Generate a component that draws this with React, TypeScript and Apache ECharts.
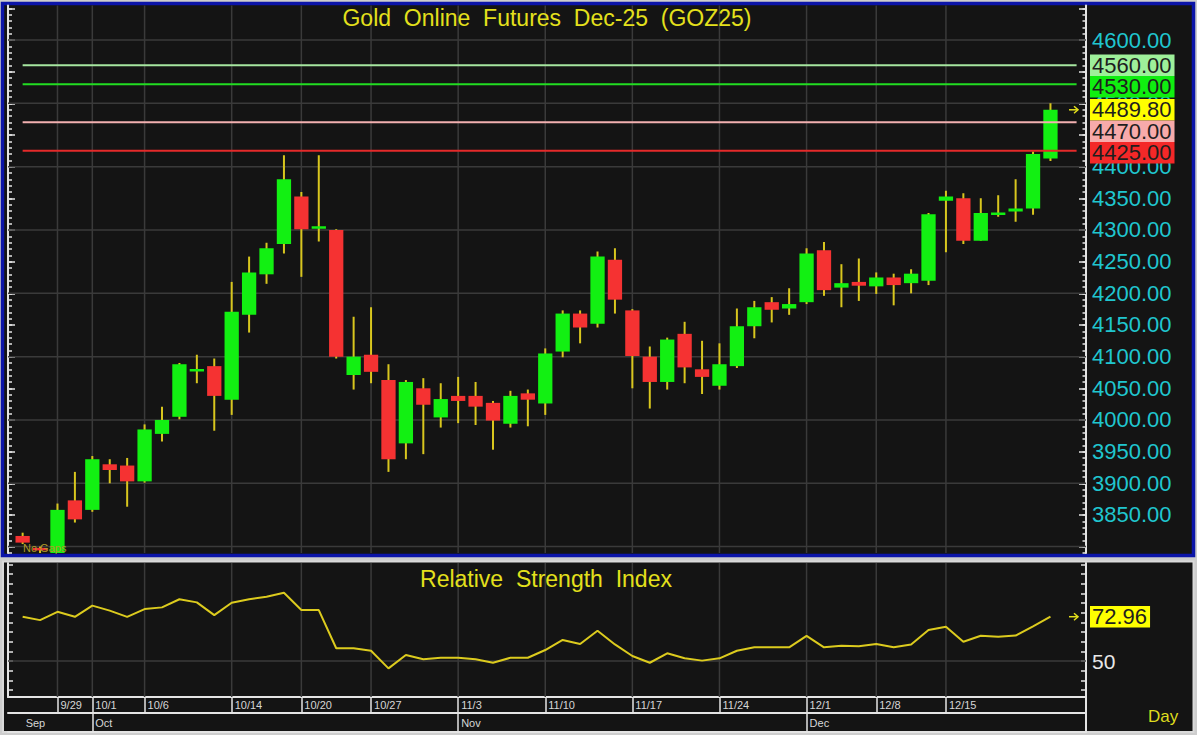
import React, { useEffect, useRef } from "react";
import * as echarts from "echarts";

const FONT = '"Liberation Sans", Arial, Helvetica, sans-serif';

// ---------- data ----------
const dates = [
  "9/25", "9/26", "9/29", "9/30", "10/1", "10/2", "10/3", "10/6", "10/7", "10/8",
  "10/9", "10/10", "10/14", "10/15", "10/16", "10/17", "10/20", "10/21", "10/22", "10/23",
  "10/27", "10/28", "10/29", "10/30", "10/31", "11/3", "11/4", "11/5", "11/6", "11/7",
  "11/10", "11/11", "11/12", "11/13", "11/14", "11/17", "11/18", "11/19", "11/20", "11/21",
  "11/24", "11/25", "11/26", "11/27", "11/28", "12/1", "12/2", "12/3", "12/4", "12/8",
  "12/9", "12/10", "12/11", "12/15", "12/16", "12/17", "12/18", "12/19", "12/22", "12/23",
];

const opens = [
  3816.8, 3798, 3785, 3873, 3858, 3930, 3928, 3903, 3978, 4005,
  4077, 4085, 4032, 4166, 4230, 4278, 4353, 4303, 4300, 4071,
  4103, 4063, 3963, 4050, 4004, 4038, 4038, 4027, 3994, 4042,
  4026, 4108, 4168, 4152, 4253, 4173, 4100, 4060, 4136, 4080,
  4054, 4085, 4148, 4186, 4176, 4186, 4268, 4209, 4218, 4211,
  4225, 4216, 4220, 4346, 4350, 4283, 4324, 4329, 4334, 4413,
];
const highs = [
  3822, 3800, 3868, 3918, 3943, 3938, 3940, 3993, 4021, 4090,
  4103, 4097, 4218, 4258, 4280, 4418, 4360, 4418, 4301, 4163,
  4178, 4088, 4063, 4066, 4058, 4068, 4060, 4030, 4046, 4048,
  4113, 4173, 4173, 4266, 4271, 4175, 4116, 4130, 4155, 4125,
  4121, 4176, 4188, 4194, 4208, 4271, 4281, 4246, 4255, 4233,
  4231, 4238, 4327, 4362, 4358, 4350, 4355, 4380, 4424, 4500,
];
const lows = [
  3804, 3778, 3778, 3838, 3855, 3900, 3863, 3901, 3966, 4001,
  4058, 3983, 4008, 4138, 4215, 4263, 4226, 4282, 4097, 4048,
  4058, 3918, 3938, 3946, 3988, 3995, 3992, 3953, 3988, 3990,
  4008, 4099, 4121, 4146, 4168, 4050, 4018, 4048, 4058, 4041,
  4048, 4082, 4129, 4154, 4166, 4183, 4196, 4178, 4188, 4199,
  4181, 4200, 4213, 4265, 4278, 4283, 4321, 4313, 4324, 4409,
];
const closes = [
  3806.3, 3794, 3858, 3843, 3938, 3921, 3903, 3985, 4000, 4088,
  4080, 4038, 4171, 4233, 4271, 4380, 4301, 4305, 4100, 4100,
  4076, 3938, 4060, 4024, 4033, 4030, 4021, 3999, 4038, 4032,
  4105, 4168, 4146, 4258, 4190, 4101, 4060, 4127, 4083, 4068,
  4088, 4148, 4178, 4174, 4183, 4263, 4205, 4216, 4212, 4225,
  4213, 4231, 4325, 4353, 4283, 4327, 4327, 4334, 4420, 4489.8,
];

const rsiValues = [
  72.9, 71.2, 75.5, 72.9, 78.7, 76.1, 72.9, 76.9, 77.8, 82.0,
  80.4, 73.8, 80.2, 82.0, 83.3, 85.4, 76.4, 76.4, 56.6, 56.6,
  55.3, 46.2, 53.1, 50.9, 51.7, 51.7, 50.9, 49.1, 51.7, 51.7,
  55.7, 60.9, 58.8, 65.7, 58.6, 52.6, 49.1, 54.0, 51.4, 50.2,
  51.4, 55.3, 57.1, 57.1, 57.1, 63.0, 57.1, 57.9, 57.7, 58.8,
  57.1, 58.6, 66.1, 67.8, 60.0, 63.1, 62.6, 63.2, 68.0, 72.96,
];

// axis labels / ticks
const dateLabelIdx = [2, 4, 7, 12, 16, 20, 25, 30, 35, 40, 45, 49, 53];
const monthLabelIdx = [0, 4, 25, 45];
const monthNames = ["Sep", "Oct", "Nov", "Dec"];
const monthTickIdx = [4, 25, 45];
// 4450 and 4550 are fully covered by the price tags in the reference
const priceLabels = [3850, 3900, 3950, 4000, 4050, 4100, 4150, 4200, 4250, 4300, 4350, 4400, 4500, 4600];
const priceGridLines = [3800, 3900, 4000, 4100, 4200, 4300, 4400, 4500, 4600];
const rsiLabels = [50];
const rsiGridLines = [50];

// horizontal levels
const levelValues = [4560, 4530, 4470, 4425];
const levelLineColors = ["#a6e6a0", "#22dd22", "#f2b0b0", "#e42a2a"];
const levelTagColors = ["#9ef09a", "#10ee10", "#f7aaaa", "#f42828"];

const range = (a: number, b: number, s: number) => {
  const r: number[] = [];
  for (let v = a; v <= b + 1e-9; v += s) r.push(+v.toFixed(4));
  return r;
};
const priceMajorTicks = range(3800, 4650, 50);
const priceMinorTicks = range(3790, 4650, 10);
const rsiTicks = range(35, 100, 5);

// scales
const X_MIN = -0.84;
const X_MAX = 61.04;
const LEVEL_START = 0;
const LEVEL_END = 60.5;
const Y_MIN = 3789.9;
const Y_MAX = 4654.5;
const R_MIN = 31.35;
const R_MAX = 100.8;

const WHITE = "#e4e4e4";
const CYAN = "#20c6cf";
const YELLOW = "#e4e01c";
const WICK = "#d8c61e";
const UP = "#12f012";
const DOWN = "#f53232";
const GRID = "#3a3a3a";
const PANEL = "#141414";

function vLines(color: string, yMin: number, yMax: number) {
  return (params: any, api: any) => {
    const x = api.value(0);
    const p1 = api.coord([x, yMin]);
    const p2 = api.coord([x, yMax]);
    return {
      type: "line",
      shape: { x1: p1[0], y1: p1[1], x2: p2[0], y2: p2[1] },
      style: { stroke: color, lineWidth: 1.5 },
    };
  };
}
function hLines(colors: string[] | string, xMin: number, xMax: number, width: number) {
  return (params: any, api: any) => {
    const v = api.value(1);
    const p1 = api.coord([xMin, v]);
    const p2 = api.coord([xMax, v]);
    const c = Array.isArray(colors) ? colors[params.dataIndex] : colors;
    return {
      type: "line",
      shape: { x1: p1[0], y1: p1[1], x2: p2[0], y2: p2[1] },
      style: { stroke: c, lineWidth: width },
    };
  };
}

function tagRenderer(values: number[], colors: string[], texts: string[], arrowIdx: number, H: number) {
  return (params: any, api: any) => {
    const axisX = api.coord([X_MAX, values[0]])[0];
    const ideal = values.map((v) => api.coord([X_MAX, v])[1]);
    const ys: number[] = [];
    ideal.forEach((y, k) => ys.push(k === 0 ? y : Math.max(y, ys[k - 1] + H)));
    const k = params.dataIndex;
    const children: any[] = [
      {
        type: "text",
        x: axisX + 4,
        y: ys[k],
        style: {
          text: texts[k],
          fill: "#1e1e1e",
          textFill: "#1e1e1e",
          font: `22px ${FONT}`,
          align: "left",
          textAlign: "left",
          verticalAlign: "middle",
          textVerticalAlign: "middle",
          backgroundColor: colors[k],
          textBackgroundColor: colors[k],
          padding: [0, 3, 0, 2],
          textPadding: [0, 3, 0, 2],
          lineHeight: H,
        },
      },
    ];
    if (k === arrowIdx) {
      const y = ideal[k];
      children.push(
        { type: "line", shape: { x1: axisX - 17, y1: y, x2: axisX - 8, y2: y }, style: { stroke: YELLOW, lineWidth: 1.5 } },
        {
          type: "polyline",
          shape: { points: [[axisX - 12, y - 3.5], [axisX - 8, y], [axisX - 12, y + 3.5]] },
          style: { stroke: YELLOW, lineWidth: 1.5, fill: "none" },
        }
      );
    }
    return { type: "group", children };
  };
}

function candleRender(params: any, api: any) {
  const i = api.value(0);
  const o = api.value(1);
  const c = api.value(2);
  const l = api.value(3);
  const h = api.value(4);
  const pO = api.coord([i, o]);
  const pC = api.coord([i, c]);
  const pL = api.coord([i, l]);
  const pH = api.coord([i, h]);
  const w = api.size([1, 0])[0] * 0.82;
  const diff = Math.abs(pO[1] - pC[1]);
  const hgt = Math.max(diff, 2.5);
  const top = Math.min(pO[1], pC[1]) - (hgt - diff) / 2;
  return {
    type: "group",
    children: [
      { type: "line", shape: { x1: pH[0], y1: pH[1], x2: pL[0], y2: pL[1] }, style: { stroke: WICK, lineWidth: 2 } },
      { type: "rect", shape: { x: pO[0] - w / 2, y: top, width: w, height: hgt }, style: { fill: c >= o ? UP : DOWN } },
    ],
  };
}

const baseValueAxis = (extra: any) => ({
  type: "value",
  splitLine: { show: false },
  axisLine: { show: false, onZero: false },
  axisTick: { show: false },
  axisLabel: { show: false },
  ...extra,
});

export default function App() {
  const ref = useRef<HTMLDivElement>(null);
  useEffect(() => {
    document.body.style.margin = "0";
    const chart = echarts.init(ref.current!, null, { renderer: "svg" });

    const lastPrice = closes[closes.length - 1];
    const tagValues = [levelValues[0], levelValues[1], lastPrice, levelValues[2], levelValues[3]];
    const tagColors = [levelTagColors[0], levelTagColors[1], "#ffff00", levelTagColors[2], levelTagColors[3]];
    const tagTexts = tagValues.map((v) => v.toFixed(2));
    const lastRsi = rsiValues[rsiValues.length - 1];

    const lineAxis = { show: true, onZero: false, lineStyle: { color: WHITE, width: 2 } };
    const tickStyle = { color: WHITE, width: 1.5 };

    const option: any = {
      animation: false,
      backgroundColor: "#cdcdcd",
      grid: [
        { left: 8, right: 111, top: 5.5, height: 547.5, outerBoundsMode: "none" },
        { left: 8, right: 111, top: 563, height: 134, outerBoundsMode: "none" },
        { left: 8, right: 111, top: 697, height: 16, outerBoundsMode: "none" },
        { left: 8, right: 111, top: 713, height: 19, outerBoundsMode: "none" },
      ],
      xAxis: [
        baseValueAxis({ gridIndex: 0, min: X_MIN, max: X_MAX, show: false }),
        baseValueAxis({ gridIndex: 1, min: X_MIN, max: X_MAX, axisLine: lineAxis }),
        baseValueAxis({
          gridIndex: 2,
          min: X_MIN,
          max: X_MAX,
          position: "bottom",
          axisLine: lineAxis,
          axisTick: { show: true, inside: true, length: 16, customValues: dateLabelIdx, lineStyle: tickStyle },
          axisLabel: {
            show: true,
            inside: true,
            customValues: dateLabelIdx,
            formatter: (v: number) => dates[Math.round(v)],
            color: "#d6d6d6",
            fontSize: 11,
            fontFamily: FONT,
            align: "left",
            verticalAlign: "middle",
            margin: 8,
            padding: [0, 0, 0, 3],
          },
        }),
        baseValueAxis({
          gridIndex: 3,
          min: X_MIN,
          max: X_MAX,
          position: "bottom",
          axisLine: lineAxis,
          axisTick: { show: true, inside: true, length: 19, customValues: monthTickIdx, lineStyle: tickStyle },
          axisLabel: {
            show: true,
            inside: true,
            customValues: monthLabelIdx,
            formatter: (v: number) => monthNames[monthLabelIdx.indexOf(Math.round(v))],
            color: "#d6d6d6",
            fontSize: 11,
            fontFamily: FONT,
            align: "left",
            verticalAlign: "middle",
            margin: 9.5,
            padding: [0, 0, 0, 3],
          },
        }),
      ],
      yAxis: [
        baseValueAxis({
          gridIndex: 0, position: "right", min: Y_MIN, max: Y_MAX,
          axisLine: lineAxis,
          axisTick: { show: true, inside: true, length: 7, customValues: priceMajorTicks, lineStyle: tickStyle },
          axisLabel: {
            show: true, customValues: priceLabels, formatter: (v: number) => v.toFixed(2),
            color: CYAN, fontSize: 22, fontFamily: FONT, margin: 6,
          },
        }),
        baseValueAxis({
          gridIndex: 0, position: "right", min: Y_MIN, max: Y_MAX,
          axisTick: { show: true, inside: true, length: 3.5, customValues: priceMinorTicks, lineStyle: tickStyle },
        }),
        baseValueAxis({
          gridIndex: 0, position: "left", min: Y_MIN, max: Y_MAX,
          axisLine: lineAxis,
          axisTick: { show: true, inside: true, length: 7, customValues: priceMajorTicks, lineStyle: tickStyle },
        }),
        baseValueAxis({
          gridIndex: 0, position: "left", min: Y_MIN, max: Y_MAX,
          axisTick: { show: true, inside: true, length: 4, customValues: priceMinorTicks, lineStyle: tickStyle },
        }),
        baseValueAxis({
          gridIndex: 1, position: "right", min: R_MIN, max: R_MAX,
          axisLine: lineAxis,
          axisTick: { show: true, inside: true, length: 5, customValues: rsiTicks, lineStyle: tickStyle },
          axisLabel: { show: true, customValues: rsiLabels, color: "#e8e8e8", fontSize: 21, fontFamily: FONT, margin: 6 },
        }),
        baseValueAxis({
          gridIndex: 1, position: "left", min: R_MIN, max: R_MAX,
          axisLine: lineAxis,
          axisTick: { show: true, inside: true, length: 5, customValues: rsiTicks, lineStyle: tickStyle },
        }),
        baseValueAxis({ gridIndex: 2, position: "right", min: 0, max: 1, axisLine: lineAxis }),
        baseValueAxis({ gridIndex: 3, position: "right", min: 0, max: 1, axisLine: lineAxis }),
      ],
      series: [
        {
          type: "custom", name: "vgrid", xAxisIndex: 0, yAxisIndex: 0, z: 1, silent: true,
          renderItem: vLines(GRID, Y_MIN, Y_MAX),
          data: dateLabelIdx.map((i) => [i, Y_MIN]),
        },
        {
          type: "custom", name: "hgrid", xAxisIndex: 0, yAxisIndex: 0, z: 1, silent: true,
          renderItem: hLines(GRID, X_MIN, X_MAX, 1.5),
          data: priceGridLines.map((v) => [X_MIN, v]),
        },
        {
          type: "custom", name: "GOZ25", xAxisIndex: 0, yAxisIndex: 0, z: 2, clip: true,
          renderItem: candleRender,
          encode: { x: 0, y: [1, 2, 3, 4] },
          data: dates.map((d, i) => [i, opens[i], closes[i], lows[i], highs[i]]),
        },
        {
          type: "custom", name: "levels", xAxisIndex: 0, yAxisIndex: 0, z: 3, silent: true,
          renderItem: hLines(levelLineColors, LEVEL_START, LEVEL_END, 2),
          data: levelValues.map((v) => [LEVEL_START, v]),
        },
        {
          type: "custom", name: "tags", xAxisIndex: 0, yAxisIndex: 0, z: 5, clip: false, silent: true,
          renderItem: tagRenderer(tagValues, tagColors, tagTexts, 2, 21.5),
          data: tagValues.map((v) => [X_MAX, v]),
        },
        {
          type: "custom", name: "rvgrid", xAxisIndex: 1, yAxisIndex: 4, z: 1, silent: true,
          renderItem: vLines(GRID, R_MIN, R_MAX),
          data: dateLabelIdx.map((i) => [i, R_MIN]),
        },
        {
          type: "custom", name: "rhgrid", xAxisIndex: 1, yAxisIndex: 4, z: 1, silent: true,
          renderItem: hLines(GRID, X_MIN, X_MAX, 1.5),
          data: rsiGridLines.map((v) => [X_MIN, v]),
        },
        {
          type: "line", name: "RSI", xAxisIndex: 1, yAxisIndex: 4, z: 3,
          showSymbol: false, symbol: "none",
          lineStyle: { color: "#dccb1e", width: 2 },
          data: rsiValues.map((v, i) => [i, v]),
        },
        {
          type: "custom", name: "rsitag", xAxisIndex: 1, yAxisIndex: 4, z: 5, clip: false, silent: true,
          renderItem: tagRenderer([lastRsi], ["#ffff00"], [lastRsi.toFixed(2)], 0, 21.5),
          data: [[X_MAX, lastRsi]],
        },
      ],
      graphic: [
        {
          type: "rect", z: -1, silent: true,
          shape: { x: 2.5, y: 3.5, width: 1191, height: 552 },
          style: { fill: PANEL, stroke: "#0b14a8", lineWidth: 3.5 },
        },
        {
          type: "rect", z: -1, silent: true,
          shape: { x: 3, y: 561.5, width: 1190.5, height: 170.5 },
          style: { fill: PANEL, stroke: "#dadada", lineWidth: 2 },
        },
        {
          type: "text", z: 10, x: 547, y: 18,
          style: {
            text: "Gold  Online  Futures  Dec-25  (GOZ25)", fill: YELLOW, font: `23px ${FONT}`,
            align: "center", textAlign: "center", verticalAlign: "middle", textVerticalAlign: "middle",
          },
        },
        {
          type: "text", z: 10, x: 546, y: 579,
          style: {
            text: "Relative  Strength  Index", fill: YELLOW, font: `23px ${FONT}`,
            align: "center", textAlign: "center", verticalAlign: "middle", textVerticalAlign: "middle",
          },
        },
        {
          type: "text", z: 10, x: 1148, y: 716,
          style: {
            text: "Day", fill: "#dedc1e", font: `17px ${FONT}`,
            align: "left", textAlign: "left", verticalAlign: "middle", textVerticalAlign: "middle",
          },
        },
        {
          type: "text", z: 10, x: 23, y: 548,
          style: {
            text: "No Gaps", fill: "#b09a28", font: `11px ${FONT}`,
            align: "left", textAlign: "left", verticalAlign: "middle", textVerticalAlign: "middle",
          },
        },
      ],
    };
    chart.setOption(option);
    return () => chart.dispose();
  }, []);
  return <div ref={ref} style={{ width: 1197, height: 735 }} />;
}
